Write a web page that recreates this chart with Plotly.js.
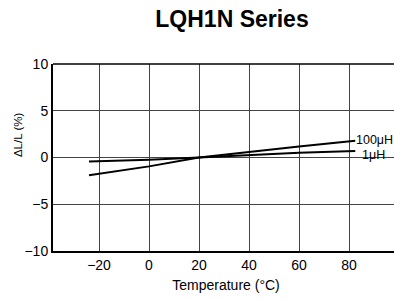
<!DOCTYPE html>
<html><head><meta charset="utf-8">
<script src="https://cdn.plot.ly/plotly-3.0.1.min.js"></script>
<style>html,body{margin:0;padding:0;overflow:hidden;background:#fff;width:394px;height:301px}</style>
</head><body><div id="chart"></div>
<script>
const temps = [-24, 0, 20, 40, 60, 82.5];
const series1uH = [-0.43, -0.25, 0, 0.29, 0.5, 0.7];
const series100uH = [-1.9, -0.95, 0, 0.62, 1.17, 1.8];
const seriesNames = ['1\u03bcH', '100\u03bcH'];
const xTicks = [-20, 0, 20, 40, 60, 80];
const yTicks = [-10, -5, 0, 5, 10];
const yTickText = ['\u221210', '\u22125', '0', '5', '10'];
const xTickText = ['\u221220', '0', '20', '40', '60', '80'];
const yTitle = '\u0394L/L (%)';
const xTitle = 'Temperature (\u00b0C)';

const font = '"Liberation Sans", Arial, Helvetica, sans-serif';
const traces = [
  {x: temps, y: series1uH, mode: 'lines', line: {color: '#000', width: 2}, name: seriesNames[0]},
  {x: temps, y: series100uH, mode: 'lines', line: {color: '#000', width: 2}, name: seriesNames[1]}
];
const layout = {
  width: 400, height: 301,
  margin: {l: 53, r: 1, t: 64, b: 50},
  paper_bgcolor: '#fff', plot_bgcolor: '#fff',
  showlegend: false,
  font: {family: font, color: '#000', size: 14},
  title: {text: '<b>LQH1N Series</b>', font: {size: 23, family: font, color: '#000'},
          x: 232/400, xref: 'container', xanchor: 'center', y: 1 - 19/301, yref: 'container', yanchor: 'middle'},
  xaxis: {range: [-38.4, 100], tickvals: xTicks, ticktext: xTickText, showgrid: true, gridcolor: '#444', gridwidth: 1,
          zeroline: false, showline: true, linecolor: '#000', linewidth: 2, ticks: '', mirror: false,
          tickfont: {size: 14, family: font}, title: {text: xTitle, font: {size: 14, family: font}, standoff: 8}},
  yaxis: {range: [-10, 10], tickvals: yTicks, ticktext: yTickText, showgrid: true, gridcolor: '#444', gridwidth: 1,
          zeroline: false, showline: true, linecolor: '#000', linewidth: 2, ticks: '',
          tickfont: {size: 14, family: font}},
  shapes: [{type: 'line', xref: 'paper', yref: 'paper', x0: 0, x1: 1, y0: 1, y1: 1, line: {color: '#000', width: 1.5}}],
  annotations: [
    {xref: 'paper', yref: 'paper', x: (18 - 53) / 346, y: 0.62, text: yTitle, textangle: -90, showarrow: false, xanchor: 'center', yanchor: 'middle', font: {size: 11.5, family: font}},
    {x: temps[temps.length-1], y: series100uH[series100uH.length-1], text: seriesNames[1], showarrow: false, xanchor: 'left', yanchor: 'middle', xshift: -1, yshift: 1, font: {size: 12.5, family: font}},
    {x: temps[temps.length-1], y: series1uH[series1uH.length-1], text: seriesNames[0], showarrow: false, xanchor: 'left', yanchor: 'middle', xshift: 5, yshift: -4, font: {size: 12.5, family: font}}
  ]
};
Plotly.newPlot('chart', traces, layout, {displayModeBar: false, staticPlot: true});
</script></body></html>
